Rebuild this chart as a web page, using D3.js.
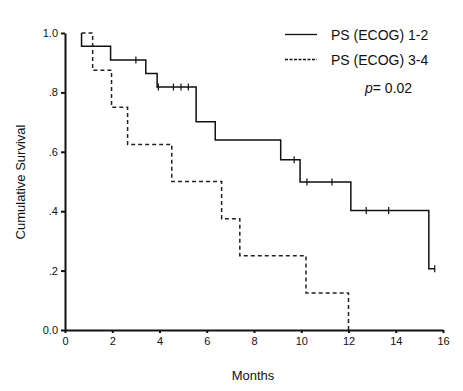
<!DOCTYPE html>
<html><head><meta charset="utf-8">
<script src="https://cdn.jsdelivr.net/npm/d3@7"></script>
<style>body{margin:0;background:#fff}svg{display:block}text{font-family:"Liberation Sans",Arial,sans-serif;fill:#111}</style>
</head><body><svg id="c" width="463" height="391"></svg>
<script>
// Group PS (ECOG) 1-2
const timesA = [0.7, 1.93, 3.42, 3.9, 5.55, 6.36, 9.13, 9.95, 12.1, 15.4];
const survA  = [0.955, 0.909, 0.864, 0.818, 0.701, 0.640, 0.573, 0.498, 0.402, 0.206];
const censA  = [3.0, 3.95, 4.59, 4.91, 5.22, 9.7, 10.24, 11.3, 12.75, 13.7, 15.65];
// Group PS (ECOG) 3-4
const timesB = [0.7, 1.17, 1.97, 2.65, 4.52, 6.63, 7.4, 10.2, 12.0];
const survB  = [1.0, 0.875, 0.75, 0.625, 0.5, 0.375, 0.25, 0.125, 0.0];
const xTicks = [0, 2, 4, 6, 8, 10, 12, 14, 16];
const yTicks = [0, 0.2, 0.4, 0.6, 0.8, 1.0];
const yTickLabels = ["0.0", ".2", ".4", ".6", ".8", "1.0"];
const legendLabels = ["PS (ECOG) 1-2", "PS (ECOG) 3-4"];
const pText = "= 0.02";

const svg = d3.select("#c");
const x = d3.scaleLinear().domain([0, 16]).range([65, 443]);
const y = d3.scaleLinear().domain([0, 1]).range([330, 33]);

// axes
const gx = svg.append("g").attr("transform", `translate(0,${y(0)})`)
  .call(d3.axisBottom(x).tickValues(xTicks).tickSize(3).tickPadding(4).tickSizeOuter(0));
const gy = svg.append("g").attr("transform", `translate(${x(0)},0)`)
  .call(d3.axisLeft(y).tickValues(yTicks).tickFormat((d,i)=>yTickLabels[i]).tickSize(4).tickPadding(3).tickSizeOuter(0));
[gx, gy].forEach(g => {
  g.select(".domain").attr("stroke", "#111").attr("stroke-width", 2);
  g.selectAll(".tick line").attr("stroke", "#111").attr("stroke-width", 2);
  g.selectAll("text").attr("font-size", 11).attr("fill", "#111").style("font-family", "Liberation Sans, Arial, sans-serif");
});

function kmPath(times, surv, start, endT) {
  const p = d3.path();
  p.moveTo(x(times[0]), y(start));
  for (let i = 0; i < times.length; i++) {
    p.lineTo(x(times[i]), y(surv[i]));
    const next = i + 1 < times.length ? times[i + 1] : endT;
    if (next != null) p.lineTo(x(next), y(surv[i]));
  }
  return p.toString();
}

svg.append("path").attr("d", kmPath(timesA, survA, 1.0, 15.65))
  .attr("fill", "none").attr("stroke", "#111").attr("stroke-width", 1.5);
svg.append("path").attr("d", kmPath(timesB, survB, 1.0, null))
  .attr("fill", "none").attr("stroke", "#222").attr("stroke-width", 1.5).attr("stroke-dasharray", "4,3");

// censor marks for group A
function survAt(t) {
  let s = 1;
  timesA.forEach((tt, i) => { if (tt <= t) s = survA[i]; });
  return s;
}
svg.selectAll(".cens").data(censA).join("line")
  .attr("x1", d => x(d)).attr("x2", d => x(d))
  .attr("y1", d => y(survAt(d)) - 3.5).attr("y2", d => y(survAt(d)) + 3.5)
  .attr("stroke", "#111").attr("stroke-width", 1.2);

// axis titles
svg.append("text").attr("x", 253).attr("y", 380).attr("text-anchor", "middle")
  .attr("font-size", 13).text("Months");
svg.append("text").attr("transform", "translate(25,182) rotate(-90)")
  .attr("text-anchor", "middle").attr("font-size", 13).text("Cumulative Survival");

// legend
const leg = svg.append("g");
legendLabels.forEach((lab, i) => {
  const yy = 34.5 + i * 25;
  leg.append("line").attr("x1", 285).attr("x2", 317).attr("y1", yy).attr("y2", yy)
    .attr("stroke", "#111").attr("stroke-width", 1.3)
    .attr("stroke-dasharray", i === 1 ? "3,1.5" : null);
  leg.append("text").attr("x", 331).attr("y", yy + 5).attr("font-size", 14).text(lab);
});
const pt = svg.append("text").attr("x", 365).attr("y", 93).attr("font-size", 14);
pt.append("tspan").attr("font-style", "italic").text("p");
pt.append("tspan").text(pText);
</script></body></html>
